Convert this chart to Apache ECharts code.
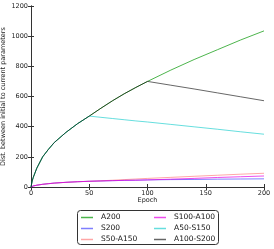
<!DOCTYPE html>
<html><head><meta charset="utf-8">
<script src="https://cdn.jsdelivr.net/npm/echarts@6/dist/echarts.min.js"></script>
<style>html,body{margin:0;padding:0;background:#fff}#c{width:274px;height:249px}</style>
</head><body><div id="c"></div>
<script>
var epochs   = [0, 1, 2, 5, 10, 15, 20, 30, 40, 50, 60, 70, 80, 90, 100, 120, 140, 160, 180, 200];
var A200     = [0, 40, 65, 125, 200, 250, 295, 362, 420, 470, 522, 572, 618, 660, 700, 775, 845, 910, 975, 1035];
var A50_S150 = [0, 40, 65, 125, 200, 250, 295, 362, 420, 470, 462, 454, 446, 438, 431, 415, 399, 383, 366, 350];
var A100_S200= [0, 40, 65, 125, 200, 250, 295, 362, 420, 470, 522, 572, 618, 660, 700, 675, 650, 624, 598, 572];
var S200     = [0, 4, 7, 12, 18, 22, 26, 31, 35, 38, 40, 42, 44, 45, 47, 49, 50, 52, 53, 54];
var S50_A150 = [0, 4, 7, 12, 18, 22, 26, 31, 35, 38, 41, 45, 49, 53, 57, 64, 71, 78, 85, 91];
var S100_A100= [0, 4, 7, 12, 18, 22, 26, 31, 35, 38, 40, 42, 44, 45, 47, 52, 57, 63, 68, 73];
var xTicks = {min: 0, max: 200, interval: 50};
var yTicks = {min: 0, max: 1200, interval: 200};
var legendCol1 = ['A200', 'S200', 'S50-A150'];
var legendCol2 = ['S100-A100', 'A50-S150', 'A100-S200'];

function pairs(v){ return epochs.map(function(e,i){ return [e, v[i]]; }); }
var FONT = 'DejaVu Sans';
var chart = echarts.init(document.getElementById('c'));
function ser(name, v, color, z){
  return {name:name, type:'line', data:pairs(v), showSymbol:false, symbol:'none', z:z,
    lineStyle:{width:1, color:color}, itemStyle:{color:color}, animation:false};
}
var axisLine = {show:true, lineStyle:{color:'#333', width:1}};
function legendItems(names){ return names.map(function(n){ return {name:n, icon:'rect'}; }); }
var legendCommon = {orient:'vertical', padding:0, itemWidth:12, itemHeight:1.5, itemGap:2, height:40,
  textStyle:{fontFamily:FONT, fontSize:7.5, color:'#111', lineHeight:9, padding:[0,0,0,3]}};
chart.setOption({
  animation:false,
  grid:{left:31, right:10, top:6, bottom:62, containLabel:false, outerBoundsMode:'none'},
  graphic:[{type:'rect', shape:{x:77.5, y:210.5, width:141, height:34, r:3}, style:{fill:'#fff', stroke:'#333', lineWidth:1}, z:0}],
  xAxis:[
    {type:'value', min:xTicks.min, max:xTicks.max, interval:xTicks.interval, name:'Epoch', nameLocation:'middle', nameGap:10,
     nameMoveOverlap:false,
     nameTextStyle:{fontFamily:FONT, fontSize:6.5, color:'#222'},
     axisLine:axisLine, axisTick:{inside:true, length:3, lineStyle:{color:'#333'}}, splitLine:{show:false},
     axisLabel:{fontFamily:FONT, fontSize:6.5, color:'#222', margin:3, formatter:function(v){return String(v);}}},
    {type:'value', position:'top', min:xTicks.min, max:xTicks.max, interval:xTicks.interval,
     axisLine:axisLine, axisTick:{inside:true, length:3, lineStyle:{color:'#333'}}, splitLine:{show:false}, axisLabel:{show:false}}
  ],
  yAxis:[
    {type:'value', min:yTicks.min, max:yTicks.max, interval:yTicks.interval, name:'Dist. between initial to current parameters',
     nameLocation:'middle', nameGap:24, nameMoveOverlap:false, nameTextStyle:{fontFamily:FONT, fontSize:6.5, color:'#222'},
     axisLine:axisLine, axisTick:{inside:true, length:3, lineStyle:{color:'#333'}}, splitLine:{show:false},
     axisLabel:{fontFamily:FONT, fontSize:6.5, color:'#222', margin:3, formatter:function(v){return String(v);}}},
    {type:'value', position:'right', min:yTicks.min, max:yTicks.max, interval:yTicks.interval,
     axisLine:axisLine, axisTick:{inside:true, length:3, lineStyle:{color:'#333'}}, splitLine:{show:false}, axisLabel:{show:false}}
  ],
  legend:[
    Object.assign({data:legendItems(legendCol1), left:81, top:213}, legendCommon),
    Object.assign({data:legendItems(legendCol2), left:154, top:213}, legendCommon)
  ],
  series:[
    ser('A200', A200, 'rgba(0,150,0,0.7)', 3),
    ser('S200', S200, 'rgba(0,0,255,0.5)', 3),
    ser('S50-A150', S50_A150, 'rgba(255,0,0,0.35)', 3),
    ser('S100-A100', S100_A100, 'rgba(230,0,230,0.7)', 3),
    ser('A50-S150', A50_S150, 'rgba(0,200,200,0.6)', 3),
    ser('A100-S200', A100_S200, 'rgba(0,0,0,0.6)', 3)
  ]
});
</script></body></html>
